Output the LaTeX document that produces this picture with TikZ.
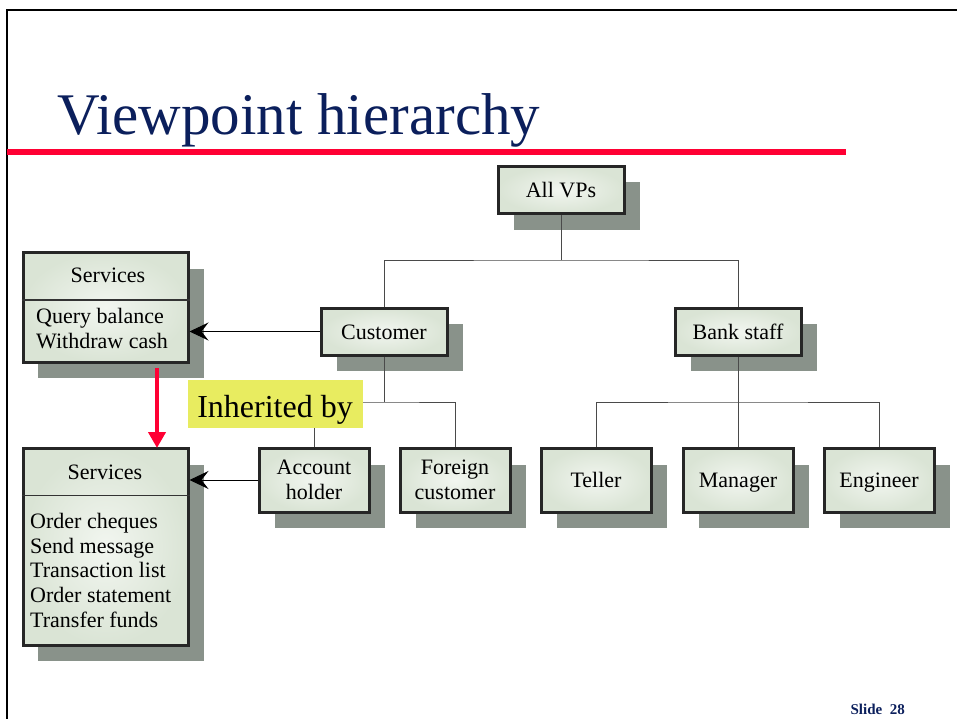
\documentclass[tikz,border=0pt]{standalone}
\usepackage{fontspec}
\setmainfont{Liberation Serif}
\usetikzlibrary{arrows.meta}
\definecolor{navy}{HTML}{0B1F5C}
\definecolor{slidered}{HTML}{FF0033}
\definecolor{boxfill}{HTML}{DAE4D5}
\definecolor{boxin}{HTML}{F2F6F0}
\definecolor{shadowc}{HTML}{89928A}
\definecolor{hilite}{HTML}{E8EC60}
\definecolor{linec}{HTML}{4A4A4A}
\tikzset{
  vpbox/.style={draw=black!85, line width=3pt, inner color=boxin, outer color=boxfill,
    minimum width=126pt, minimum height=47pt, inner sep=0pt, font=\fontsize{22}{25}\selectfont, align=center},
  oneline/.style={text height=15pt, text depth=0pt},
  leafbox/.style={vpbox, minimum width=110pt, minimum height=64pt},
  servbox/.style={draw=black!85, line width=3pt, inner color=boxin, outer color=boxfill, minimum width=165pt, inner sep=0pt},
  conn/.style={draw=linec, line width=1pt},
  useline/.style={draw=black, line width=1pt, -{Stealth[length=19pt,width=18pt,inset=7pt]}},
}
\begin{document}
\begin{tikzpicture}[x=1pt,y=-1pt]
\useasboundingbox (0,0) rectangle (957,719);
% frame
\draw[line width=2.2pt] (7,719) -- (7,10) -- (957,10);
% title
\node[anchor=base west, inner sep=0pt, text=navy, font=\fontsize{59}{60}\selectfont] (title) at (57,135) {Viewpoint hierarchy};
\fill[slidered] (7,149.5) rectangle (846,155);
% shadows
\fill[shadowc] (514,182) rectangle (640,230);
\fill[shadowc] (337,324) rectangle (463,371);
\fill[shadowc] (691,324) rectangle (817,371);
\foreach \x in {259,400,541,683,824} {\fill[shadowc] (\x+16,465) rectangle (\x+126,528);}
\fill[shadowc] (38,269) rectangle (204,378);
\fill[shadowc] (38,465) rectangle (204,661);
% hierarchy nodes
\node[vpbox, oneline] (all) at (561,190) {All VPs};
\node[vpbox, oneline] (cust) at (384,331.5) {Customer};
\node[vpbox, oneline] (bank) at (738,331.5) {Bank staff};
\node[leafbox] (acc) at (314,480) {Account\\holder};
\node[leafbox] (for) at (455,480) {Foreign\\customer};
\node[leafbox, oneline] (tel) at (596,480) {Teller};
\node[leafbox, oneline] (man) at (738,480) {Manager};
\node[leafbox, oneline] (eng) at (879,480) {Engineer};
% connectors
\coordinate (j0) at (561,260);
\draw[conn] (all.south) -- (j0);
\draw[conn] (cust.north) |- (j0) -| (bank.north);
\coordinate (j1) at (384,402);
\draw[conn] (cust.south) -- (j1);
\draw[conn] (acc.north) |- (j1) -| (for.north);
\coordinate (j2) at (738,402);
\draw[conn] (bank.south) -- (j2);
\draw[conn] (tel.north) |- (j2) -| (eng.north);
\draw[conn] (j2) -- (man.north);
% services boxes
\node[servbox, minimum height=110pt] (s1) at (105.5,307.5) {};
\draw[line width=1.2pt, black!80] (s1.west |- 0,300) -- (s1.east |- 0,300);
\node[font=\fontsize{22}{24}\selectfont, inner sep=0pt] (s1h) at (108,275) {Services};
\node[font=\fontsize{22}{24.7}\selectfont, inner sep=0pt, anchor=north west, align=left] (s1b) at (36,308) {Query balance\\Withdraw cash};
\node[servbox, minimum height=197pt] (s2) at (105.5,547) {};
\draw[line width=1.2pt, black!80] (s2.west |- 0,495.5) -- (s2.east |- 0,495.5);
\node[font=\fontsize{22}{24}\selectfont, inner sep=0pt] (s2h) at (105,472) {Services};
\node[font=\fontsize{22}{24.7}\selectfont, inner sep=0pt, anchor=north west, align=left] (s2b) at (30,513) {Order cheques\\Send message\\Transaction list\\Order statement\\Transfer funds};
% uses arrows
\draw[useline] (cust.west) -- (cust.west -| s1.east);
\draw[useline] (acc.west) -- (acc.west -| s2.east);
% inheritance
\coordinate (r0) at (157,368);
\draw[slidered, line width=4.5pt, -{Triangle[length=16pt,width=17pt]}] (r0) -- (157,448);
\node[fill=hilite, font=\fontsize{32}{34}\selectfont, minimum width=175pt, minimum height=48pt, inner sep=0pt, text height=31pt, text depth=5pt] (inh) at (275,404) {Inherited by};
% slide number
\node[font=\bfseries\fontsize{15}{16}\selectfont, text=navy, anchor=base east, inner sep=0pt] (slide) at (905,714) {Slide\ \ 28};
\end{tikzpicture}
\end{document}
